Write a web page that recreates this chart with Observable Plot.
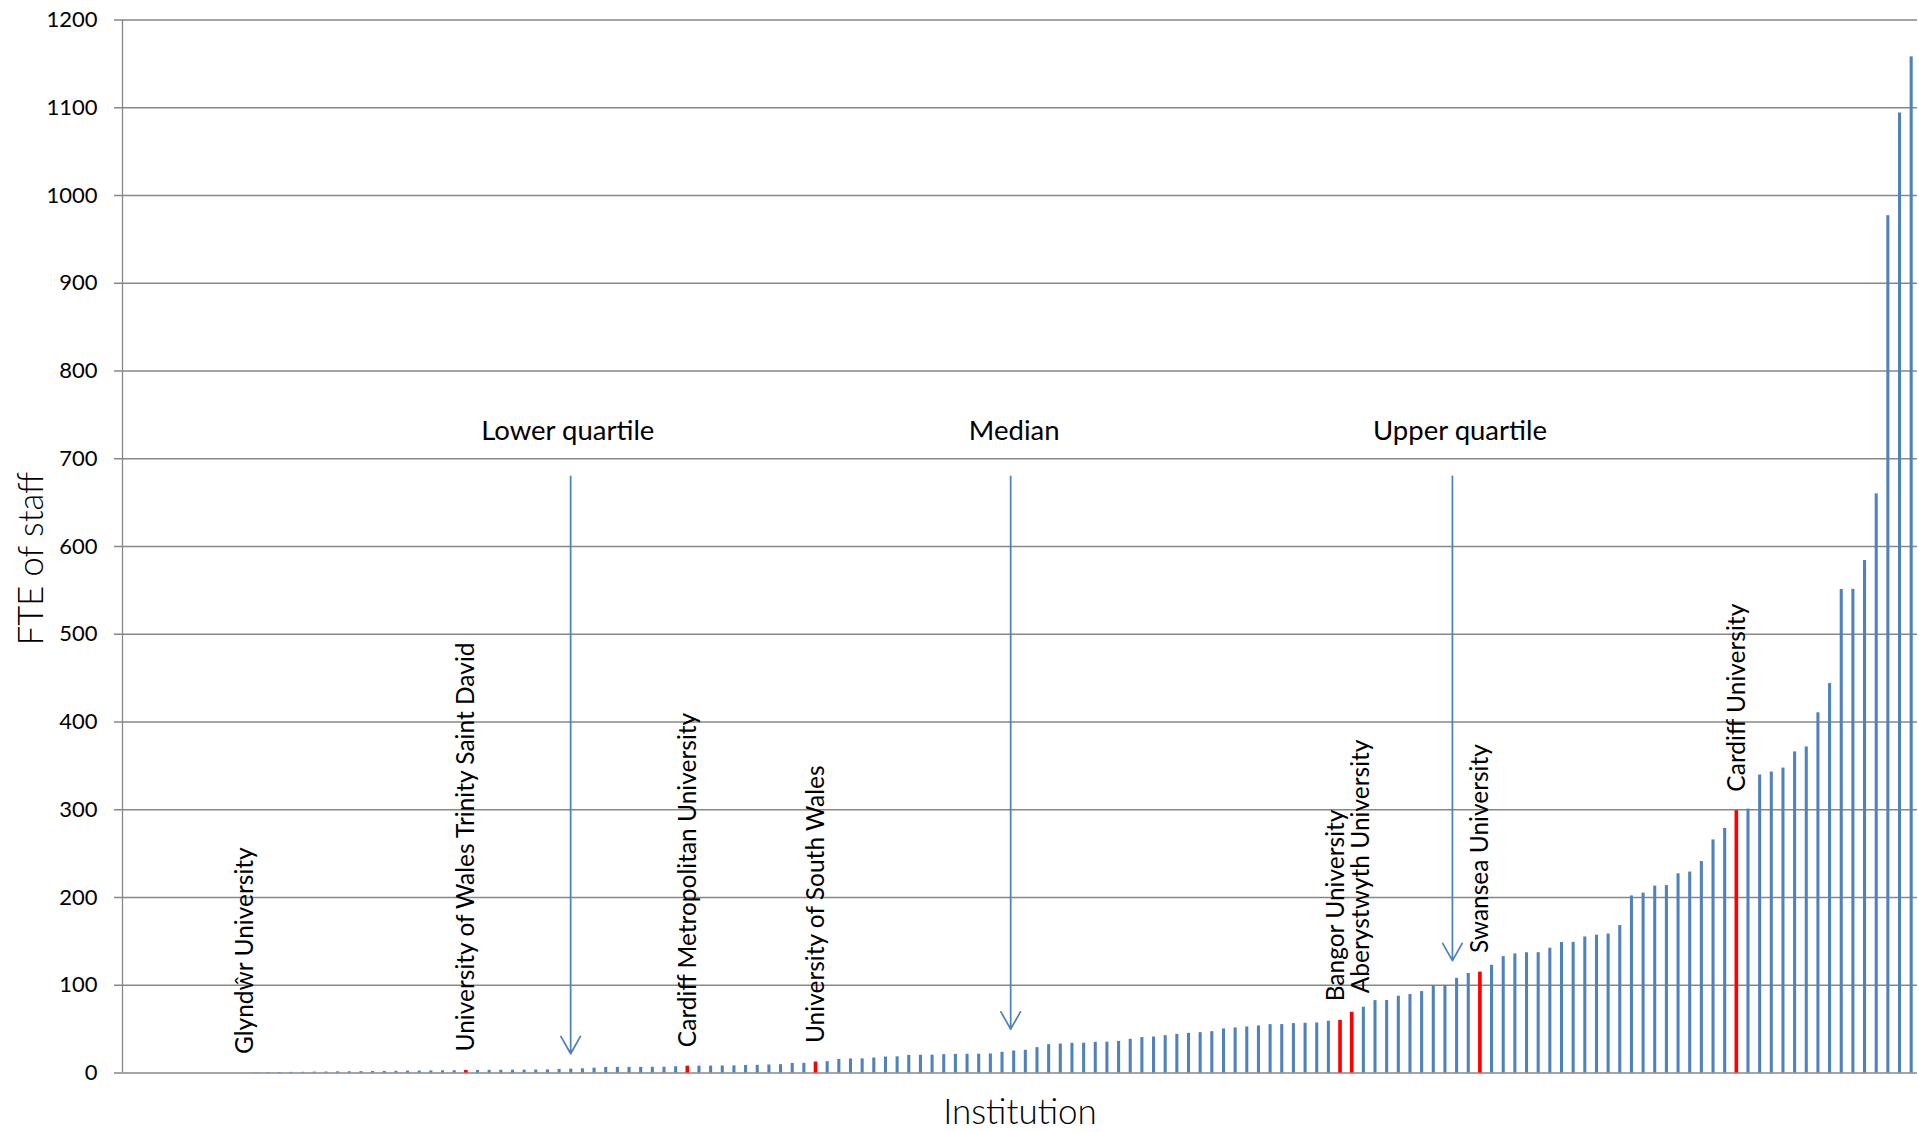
<!DOCTYPE html>
<html><head><meta charset="utf-8">
<script src="https://cdn.jsdelivr.net/npm/d3@7"></script>
<script src="https://cdn.jsdelivr.net/npm/@observablehq/plot@0.6"></script>
<style>
html,body{margin:0;padding:0;background:#fff;}
</style></head><body><div id="chart"></div>
<script>
// FTE of staff per institution, sorted ascending (rank 0 = smallest)
const staffFTE = [
  0, 0, 0, 0, 0, 0, 0, 0, 0, 0,
  0, 0.3, 0.4, 0.6, 0.7, 0.8, 1.0, 1.1, 1.3, 1.4,
  1.6, 1.7, 1.8, 1.9, 2.1, 2.2, 2.4, 2.5, 2.6, 2.9,
  2.9, 3.0, 3.1, 3.2, 3.3, 3.4, 3.5, 4.0, 4.4, 4.8,
  5.5, 6.3, 6.4, 6.4, 6.4, 6.5, 6.6, 7.1, 7.8, 7.8,
  7.9, 8.0, 8.1, 8.6, 8.7, 9.1, 9.5, 10.9, 11.0, 12.5,
  12.9, 15.5, 16.0, 16.1, 17.1, 18.2, 18.4, 20.1, 20.2, 20.3,
  20.9, 21.2, 21.3, 21.4, 21.7, 23.6, 25.1, 25.9, 28.9, 32.3,
  33.0, 33.8, 33.9, 35.0, 35.1, 36.0, 38.4, 40.3, 41.0, 42.6,
  44.0, 45.2, 46.0, 47.1, 50.2, 51.3, 52.5, 53.6, 55.1, 55.2,
  56.3, 56.7, 57.0, 58.9, 60.0, 69.2, 74.9, 82.5, 82.6, 87.5,
  89.4, 92.8, 99.6, 99.7, 107.9, 113.4, 115.0, 122.7, 132.6, 135.7,
  137.0, 137.1, 142.2, 148.8, 148.9, 155.0, 157.0, 158.4, 168.0, 201.8,
  205.0, 213.0, 213.6, 227.0, 229.0, 241.0, 265.6, 278.8, 299.0, 300.7,
  339.6, 343.0, 347.5, 365.9, 371.6, 410.5, 443.8, 551.0, 551.2, 584.0,
  660.0, 977.0, 1094.0, 1158.0
];
// Welsh institutions (highlighted) and their rank in the sorted list
const welshNames = [
  "Glyndŵr University",
  "University of Wales Trinity Saint David",
  "Cardiff Metropolitan University",
  "University of South Wales",
  "Bangor University",
  "Aberystwyth University",
  "Swansea University",
  "Cardiff University"
];
const welshRanks = [10, 29, 48, 59, 104, 105, 116, 138];
// quartile markers (rank position of arrow and caption, arrow tip value)
const markerNames = ["Lower quartile", "Median", "Upper quartile"];
const markerRanks = [38.45, 76.2, 114.1];
const markerTextRanks = [38.2, 76.5, 114.75];
const markerTips = [22, 50, 128];
const markerTop = 680;
const markerTextY = 721;
const yTicks = [0, 100, 200, 300, 400, 500, 600, 700, 800, 900, 1000, 1100, 1200];

const bars = staffFTE.map((v, i) => ({rank: i, v, welsh: welshRanks.includes(i)}));
const labels = welshNames.map((name, k) => ({name, rank: welshRanks[k], v: staffFTE[welshRanks[k]]}));
const markers = markerNames.map((name, k) => ({name, x: markerRanks[k], tx: markerTextRanks[k], tip: markerTips[k]}));

const blue = "#4F81BD", red = "#FF0000", grid = "#878787";
const labelOpts = {x: d => d.rank + 0.5, y: "v", text: "name", rotate: -90, textAnchor: "start", dy: -19, fontSize: 24.5, fill: "#000"};

const plot = Plot.plot({
  width: 1919, height: 1132,
  marginLeft: 122, marginRight: 2, marginTop: 19.5, marginBottom: 59.5,
  style: {fontFamily: "Lato, 'Open Sans', sans-serif", fontSize: "22px", background: "#fff", color: "#000"},
  x: {domain: [0, staffFTE.length], axis: null},
  y: {domain: [0, 1200], ticks: yTicks, tickFormat: d => String(d), tickSize: 0, tickPadding: 25, label: null},
  marks: [
    Plot.ruleY(yTicks, {stroke: grid, strokeWidth: 1.3, insetLeft: -8}),
    Plot.ruleX([0], {y1: 0, y2: 1200, stroke: grid, strokeWidth: 1.3}),
    Plot.rect(bars.filter(d => !d.welsh), {x1: "rank", x2: d => d.rank + 1, y1: 0, y2: "v", fill: blue, insetLeft: 4.3, insetRight: 4.3}),
    Plot.rect(bars.filter(d => d.welsh), {x1: "rank", x2: d => d.rank + 1, y1: 0, y2: "v", fill: red, insetLeft: 4.0, insetRight: 4.0}),
    Plot.arrow(markers, {x1: "x", x2: "x", y1: markerTop, y2: "tip", stroke: blue, strokeWidth: 1.75, headLength: 17, headAngle: 59}),
    Plot.text(markers, {x: "tx", y: markerTextY, text: "name", lineAnchor: "bottom", fontSize: 27.5, fill: "#000"}),
    Plot.text(labels.filter(d => !/^(Bangor|Aberystwyth)/.test(d.name)), labelOpts),
    Plot.text(labels.filter(d => /^Bangor/.test(d.name)), {...labelOpts, dx: -4}),
    Plot.text(labels.filter(d => /^Aberystwyth/.test(d.name)), {...labelOpts, dx: 9}),
    Plot.text(["FTE of staff"], {frameAnchor: "left", text: d => d, rotate: -90, textAnchor: "middle", dx: -91, dy: 12, fontSize: 34.5, fontWeight: 300, fill: "#000"}),
    Plot.text(["Institution"], {frameAnchor: "bottom", text: d => d, dy: 50.5, lineAnchor: "bottom", fontSize: 35, fontWeight: 300, fill: "#000"})
  ]
});
document.getElementById("chart").appendChild(plot);
</script>
</body></html>
